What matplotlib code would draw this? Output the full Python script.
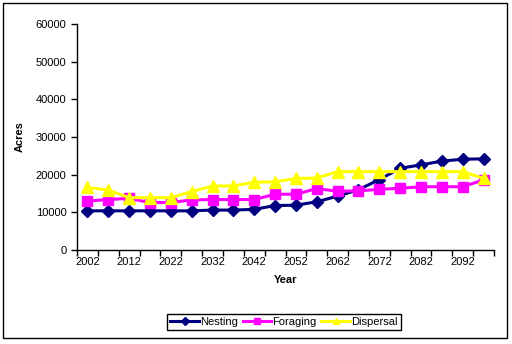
import numpy as np
import matplotlib.pyplot as plt
from matplotlib.patches import Rectangle

plt.rcParams['font.family'] = ['Liberation Sans', 'DejaVu Sans']

years = list(range(2002, 2098, 5))
nesting = [10400, 10400, 10400, 10400, 10400, 10400, 10600, 10600, 10800, 11800,
           11900, 12800, 14300, 16000, 18700, 21700, 22600, 23600, 24100, 24200]
foraging = [13000, 13400, 13700, 12600, 12600, 13300, 13400, 13400, 13400, 14800,
            14800, 16300, 15600, 15700, 16100, 16400, 16800, 16800, 16800, 18600]
dispersal = [16600, 15900, 13900, 13900, 13900, 15500, 17000, 17000, 18000, 18100,
             19000, 19100, 20800, 20800, 20800, 20800, 20800, 20800, 20800, 19000]

fig = plt.figure(figsize=(5.12, 3.44), dpi=100)
ax = fig.add_axes([77/512, 1-250/344, (494-77)/512, (250-24)/344])

x = np.arange(len(years))
ax.plot(x, nesting, color='#000080', lw=2.2, marker='D', ms=6.5, label='Nesting')
ax.plot(x, foraging, color='#FF00FF', lw=2.2, marker='s', ms=7, label='Foraging')
ax.plot(x, dispersal, color='#FFFF00', lw=2.2, marker='^', ms=8, label='Dispersal')

ax.set_xlim(-0.5, len(years) - 0.5)
ax.set_ylim(0, 60000)
ax.set_yticks(range(0, 60001, 10000))
ax.set_xticks(np.arange(-0.5, len(years), 1))
ax.set_xticklabels([])
ax.set_xticks(x[::2], minor=True)
ax.set_xticklabels([str(y) for y in years[::2]], minor=True)
ax.tick_params(axis='x', which='minor', length=0, pad=5)
ax.tick_params(axis='both', which='major', labelsize=8, length=4, width=1, color='black')
ax.tick_params(axis='x', which='minor', labelsize=8)
for s in ['top', 'right']:
    ax.spines[s].set_visible(False)
for s in ['left', 'bottom']:
    ax.spines[s].set_linewidth(1)

ax.set_ylabel('Acres', fontsize=8, fontweight='bold', labelpad=8)
ax.set_xlabel('Year', fontsize=8, fontweight='bold', labelpad=6)

leg = fig.legend(loc='center', bbox_to_anchor=(284/512, 1-322/344), ncol=3,
                 fontsize=8, fancybox=False, edgecolor='black', framealpha=1,
                 handlelength=2.6, handletextpad=0.1, columnspacing=0.4,
                 borderpad=0.3, borderaxespad=0, markerscale=0.6)
leg.get_frame().set_linewidth(1)

fig.patches.append(Rectangle((3/512, 6/344), 504/512, 335/344, transform=fig.transFigure,
                             fill=False, edgecolor='black', lw=1))

fig.savefig('out.png', dpi=100)
